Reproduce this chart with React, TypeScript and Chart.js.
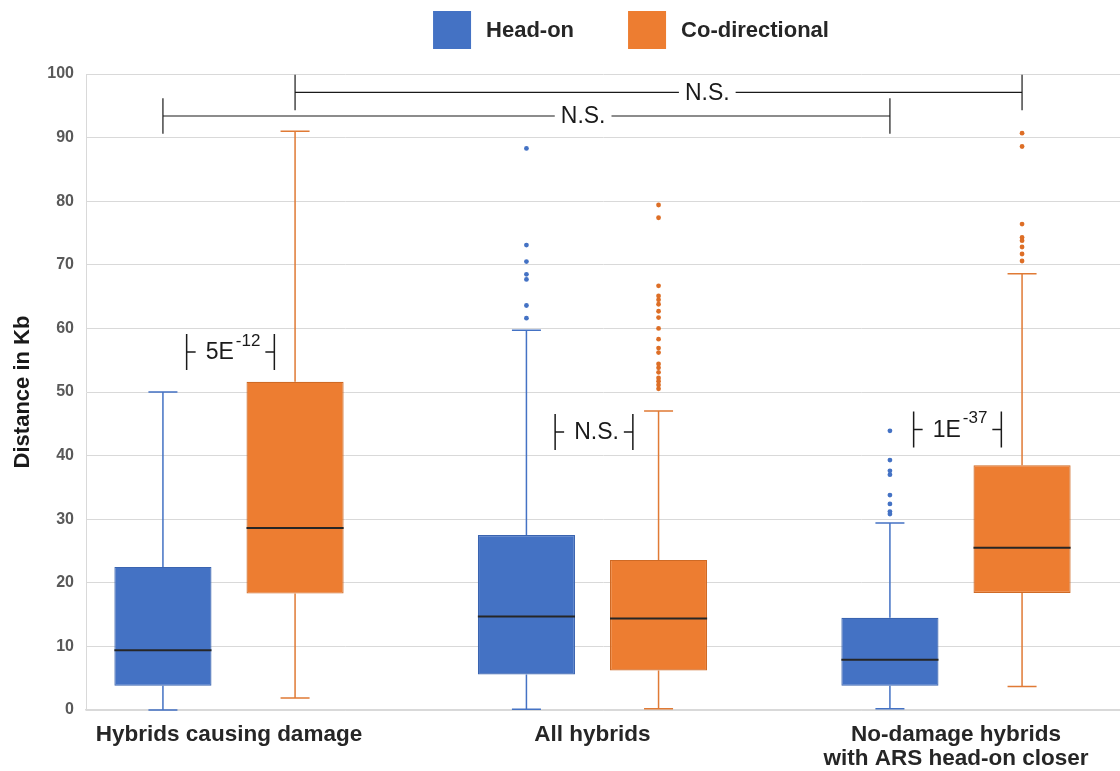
import React, { useEffect, useRef } from 'react';
import { Chart, registerables } from 'chart.js';

Chart.register(...registerables);

// ---------- data ----------
const CATEGORY_LABELS: string[][] = [
  ['Hybrids causing damage'],
  ['All hybrids'],
  ['No-damage hybrids', 'with ARS head-on closer'],
];
const SERIES_NAMES = ['Head-on', 'Co-directional'];

const HEAD_MIN = [0, 0.1, 0.2];
const HEAD_Q1 = [3.8, 5.6, 3.8];
const HEAD_MEDIAN = [9.4, 14.7, 7.9];
const HEAD_Q3 = [22.5, 27.5, 14.5];
const HEAD_MAX = [50.0, 59.7, 29.4];
const HEAD_OUTLIERS: number[][] = [
  [],
  [88.3, 73.1, 70.5, 68.5, 67.7, 63.6, 61.6],
  [43.9, 39.3, 37.6, 37.0, 33.8, 32.4, 31.2, 30.8],
];

const CO_MIN = [1.9, 0.2, 3.7];
const CO_Q1 = [18.3, 6.2, 18.4];
const CO_MEDIAN = [28.6, 14.4, 25.5];
const CO_Q3 = [51.6, 23.6, 38.5];
const CO_MAX = [91.0, 47.0, 68.6];
const CO_OUTLIERS: number[][] = [
  [],
  [79.4, 77.4, 66.7, 65.1, 64.5, 63.8, 62.7, 61.7, 60.0, 58.3, 56.9, 56.2, 54.4, 53.8, 53.1, 52.2, 51.7, 51.1, 50.5],
  [90.7, 88.6, 76.4, 74.3, 73.8, 72.8, 71.7, 70.6],
];

const Y_MIN = 0;
const Y_MAX = 100;
const Y_STEP = 10;
const Y_TITLE = 'Distance in Kb';

// p-values between the two series inside each category
const PAIR_P_BASE = ['5E', 'N.S.', '1E'];
const PAIR_P_EXP = ['-12', '', '-37'];
const PAIR_Y = [56.3, 43.7, 44.1];

// comparisons across categories
const ACROSS_LABEL = ['N.S.', 'N.S.'];
const ACROSS_SERIES = [1, 0];
const ACROSS_FROM = [0, 0];
const ACROSS_TO = [2, 2];
const ACROSS_Y = [97.1, 93.4];
const ACROSS_HALF = [2.8, 2.8];

// ---------- style ----------
const FONT = "'Liberation Sans', Arial, Helvetica, sans-serif";
const FILL = ['#4472C4', '#ED7D31'];
const BORDER = ['#3A64B0', '#CF6A25'];
const WHISKER = ['#4472C4', '#E07A35'];
const DOT = ['#4472C4', '#DD6E26'];
const ACROSS_TEXT_AT = [0.567, 0.578];

const SERIES = [
  { min: HEAD_MIN, q1: HEAD_Q1, med: HEAD_MEDIAN, q3: HEAD_Q3, max: HEAD_MAX, out: HEAD_OUTLIERS },
  { min: CO_MIN, q1: CO_Q1, med: CO_MEDIAN, q3: CO_Q3, max: CO_MAX, out: CO_OUTLIERS },
];

const boxPlugin = {
  id: 'boxExtras',
  beforeDatasetsDraw(chart: any) {
    const ctx = chart.ctx;
    const y = chart.scales.y;
    ctx.save();
    SERIES.forEach((s, di) => {
      const meta = chart.getDatasetMeta(di);
      meta.data.forEach((bar: any, i: number) => {
        const cx = bar.x;
        const cap = 29;
        ctx.strokeStyle = WHISKER[di];
        ctx.lineWidth = 1.5;
        ctx.beginPath();
        ctx.moveTo(cx, y.getPixelForValue(s.q3[i]));
        ctx.lineTo(cx, y.getPixelForValue(s.max[i]));
        ctx.moveTo(cx - cap / 2, y.getPixelForValue(s.max[i]));
        ctx.lineTo(cx + cap / 2, y.getPixelForValue(s.max[i]));
        ctx.moveTo(cx, y.getPixelForValue(s.q1[i]));
        ctx.lineTo(cx, y.getPixelForValue(s.min[i]));
        ctx.moveTo(cx - cap / 2, y.getPixelForValue(s.min[i]));
        ctx.lineTo(cx + cap / 2, y.getPixelForValue(s.min[i]));
        ctx.stroke();
      });
    });
    ctx.restore();
  },
  afterDatasetsDraw(chart: any) {
    const ctx = chart.ctx;
    const y = chart.scales.y;
    const x = chart.scales.x;
    ctx.save();
    // medians and outliers
    SERIES.forEach((s, di) => {
      const meta = chart.getDatasetMeta(di);
      meta.data.forEach((bar: any, i: number) => {
        const cx = bar.x;
        const w = bar.width;
        ctx.strokeStyle = '#262626';
        ctx.lineWidth = 2;
        ctx.beginPath();
        const my = y.getPixelForValue(s.med[i]);
        ctx.moveTo(cx - w / 2, my);
        ctx.lineTo(cx + w / 2, my);
        ctx.stroke();
        ctx.fillStyle = DOT[di];
        s.out[i].forEach((v) => {
          ctx.beginPath();
          ctx.arc(cx, y.getPixelForValue(v), 2.4, 0, Math.PI * 2);
          ctx.fill();
        });
      });
    });

    // within-category brackets
    ctx.strokeStyle = '#1a1a1a';
    ctx.fillStyle = '#1a1a1a';
    ctx.lineWidth = 1.5;
    PAIR_P_BASE.forEach((base, i) => {
      const cx = x.getPixelForValue(i) + 4;
      const cy = y.getPixelForValue(PAIR_Y[i]);
      ctx.font = `23px ${FONT}`;
      const w1 = ctx.measureText(base).width;
      ctx.font = `17px ${FONT}`;
      const exp = PAIR_P_EXP[i];
      const w2 = exp ? ctx.measureText(exp).width + 2 : 0;
      const total = w1 + w2;
      const tl = cx - total / 2;
      const tr = cx + total / 2;
      const lx = tl - 19;
      const rx = tr + 14;
      ctx.beginPath();
      ctx.moveTo(lx, cy - 18);
      ctx.lineTo(lx, cy + 18);
      ctx.moveTo(lx, cy);
      ctx.lineTo(lx + 9, cy);
      ctx.moveTo(rx, cy - 18);
      ctx.lineTo(rx, cy + 18);
      ctx.moveTo(rx, cy);
      ctx.lineTo(rx - 9, cy);
      ctx.stroke();
      ctx.textBaseline = 'middle';
      ctx.textAlign = 'left';
      ctx.font = `23px ${FONT}`;
      ctx.fillText(base, tl, cy + 1);
      if (exp) {
        ctx.font = `17px ${FONT}`;
        ctx.fillText(exp, tl + w1 + 2, cy - 11);
      }
    });

    // across-category brackets
    ACROSS_LABEL.forEach((label, k) => {
      const meta = chart.getDatasetMeta(ACROSS_SERIES[k]);
      const x1 = meta.data[ACROSS_FROM[k]].x;
      const x2 = meta.data[ACROSS_TO[k]].x;
      const cy = y.getPixelForValue(ACROSS_Y[k]);
      const top = y.getPixelForValue(ACROSS_Y[k] + ACROSS_HALF[k]);
      const bot = y.getPixelForValue(ACROSS_Y[k] - ACROSS_HALF[k]);
      ctx.font = `23px ${FONT}`;
      const w = ctx.measureText(label).width;
      const tx = x1 + (x2 - x1) * ACROSS_TEXT_AT[k];
      ctx.lineWidth = 1.2;
      ctx.beginPath();
      ctx.moveTo(x1, top);
      ctx.lineTo(x1, bot);
      ctx.moveTo(x2, top);
      ctx.lineTo(x2, bot);
      ctx.moveTo(x1, cy);
      ctx.lineTo(tx - w / 2 - 6, cy);
      ctx.moveTo(tx + w / 2 + 6, cy);
      ctx.lineTo(x2, cy);
      ctx.stroke();
      ctx.textAlign = 'center';
      ctx.textBaseline = 'middle';
      ctx.fillText(label, tx, cy + 1);
    });
    ctx.restore();
  },
  afterDraw(chart: any) {
    // legend
    const ctx = chart.ctx;
    const area = chart.chartArea;
    const ds = chart.data.datasets;
    ctx.save();
    ctx.font = `bold 22px ${FONT}`;
    const BOX = 38;
    const GAP = 15;
    const SPACE = 54;
    const widths = ds.map((d: any) => ctx.measureText(d.label).width);
    const total = widths.reduce((a: number, b: number) => a + b, 0) + ds.length * (BOX + GAP) + SPACE * (ds.length - 1);
    let lx = (area.left + area.right) / 2 + 28 - total / 2;
    const cy = 30;
    ds.forEach((d: any, i: number) => {
      ctx.fillStyle = d.backgroundColor;
      ctx.fillRect(lx, cy - BOX / 2, BOX, BOX);
      ctx.fillStyle = '#262626';
      ctx.textAlign = 'left';
      ctx.textBaseline = 'middle';
      ctx.fillText(d.label, lx + BOX + GAP, cy + 1);
      lx += BOX + GAP + widths[i] + SPACE;
    });
    ctx.restore();
  },
};

export default function App() {
  const ref = useRef<HTMLCanvasElement>(null);
  useEffect(() => {
    const n = CATEGORY_LABELS.length;
    const config: any = {
      type: 'bar',
      data: {
        datasets: SERIES.map((s, di) => ({
          label: SERIES_NAMES[di],
          data: s.q1.map((q1, i) => ({ x: i, y: [q1, s.q3[i]] })),
          backgroundColor: FILL[di],
          borderColor: BORDER[di],
          borderWidth: 1.2,
          borderSkipped: false,
          categoryPercentage: 0.727,
          barPercentage: 0.735,
        })),
      },
      options: {
        responsive: false,
        animation: false,
        events: [],
        layout: { padding: { top: 74, left: 0, right: 0, bottom: 0 } },
        plugins: { legend: { display: false }, tooltip: { enabled: false } },
        scales: {
          x: {
            type: 'linear',
            min: -0.3934,
            max: -0.3934 + 2.8446 * (n - 1) / 2,
            offset: false,
            grid: { display: false, offset: false },
            border: { display: true, color: '#d9d9d9', width: 1.5 },
            afterBuildTicks: (scale: any) => {
              scale.ticks = CATEGORY_LABELS.map((_, i) => ({ value: i }));
            },
            afterFit: (scale: any) => {
              scale.height = 61;
            },
            ticks: {
              autoSkip: false,
              maxRotation: 0,
              minRotation: 0,
              padding: 5,
              color: '#262626',
              font: { family: FONT, size: 22.5, weight: 'bold', lineHeight: 1.07 },
              callback: (v: number) => CATEGORY_LABELS[Math.round(v)],
            },
          },
          y: {
            min: Y_MIN,
            max: Y_MAX,
            afterFit: (scale: any) => {
              scale.width = 86;
            },
            grid: { color: '#d9d9d9', lineWidth: 1, drawTicks: false },
            border: { display: true, color: '#d9d9d9', width: 1 },
            ticks: {
              stepSize: Y_STEP,
              padding: 12,
              color: '#595959',
              font: { family: FONT, size: 16, weight: 'bold' },
            },
            title: {
              display: true,
              text: Y_TITLE,
              color: '#1a1a1a',
              font: { family: FONT, size: 22, weight: 'bold' },
              padding: { top: 10, bottom: 0 },
            },
          },
        },
      },
      plugins: [boxPlugin],
    };
    const chart = new Chart(ref.current as HTMLCanvasElement, config);
    return () => chart.destroy();
  }, []);
  return (
    <div style={{ position: 'absolute', left: 0, top: 0, width: 1120, height: 771, background: '#fff' }}>
      <canvas ref={ref} width={1120} height={771} style={{ display: 'block' }} />
    </div>
  );
}
